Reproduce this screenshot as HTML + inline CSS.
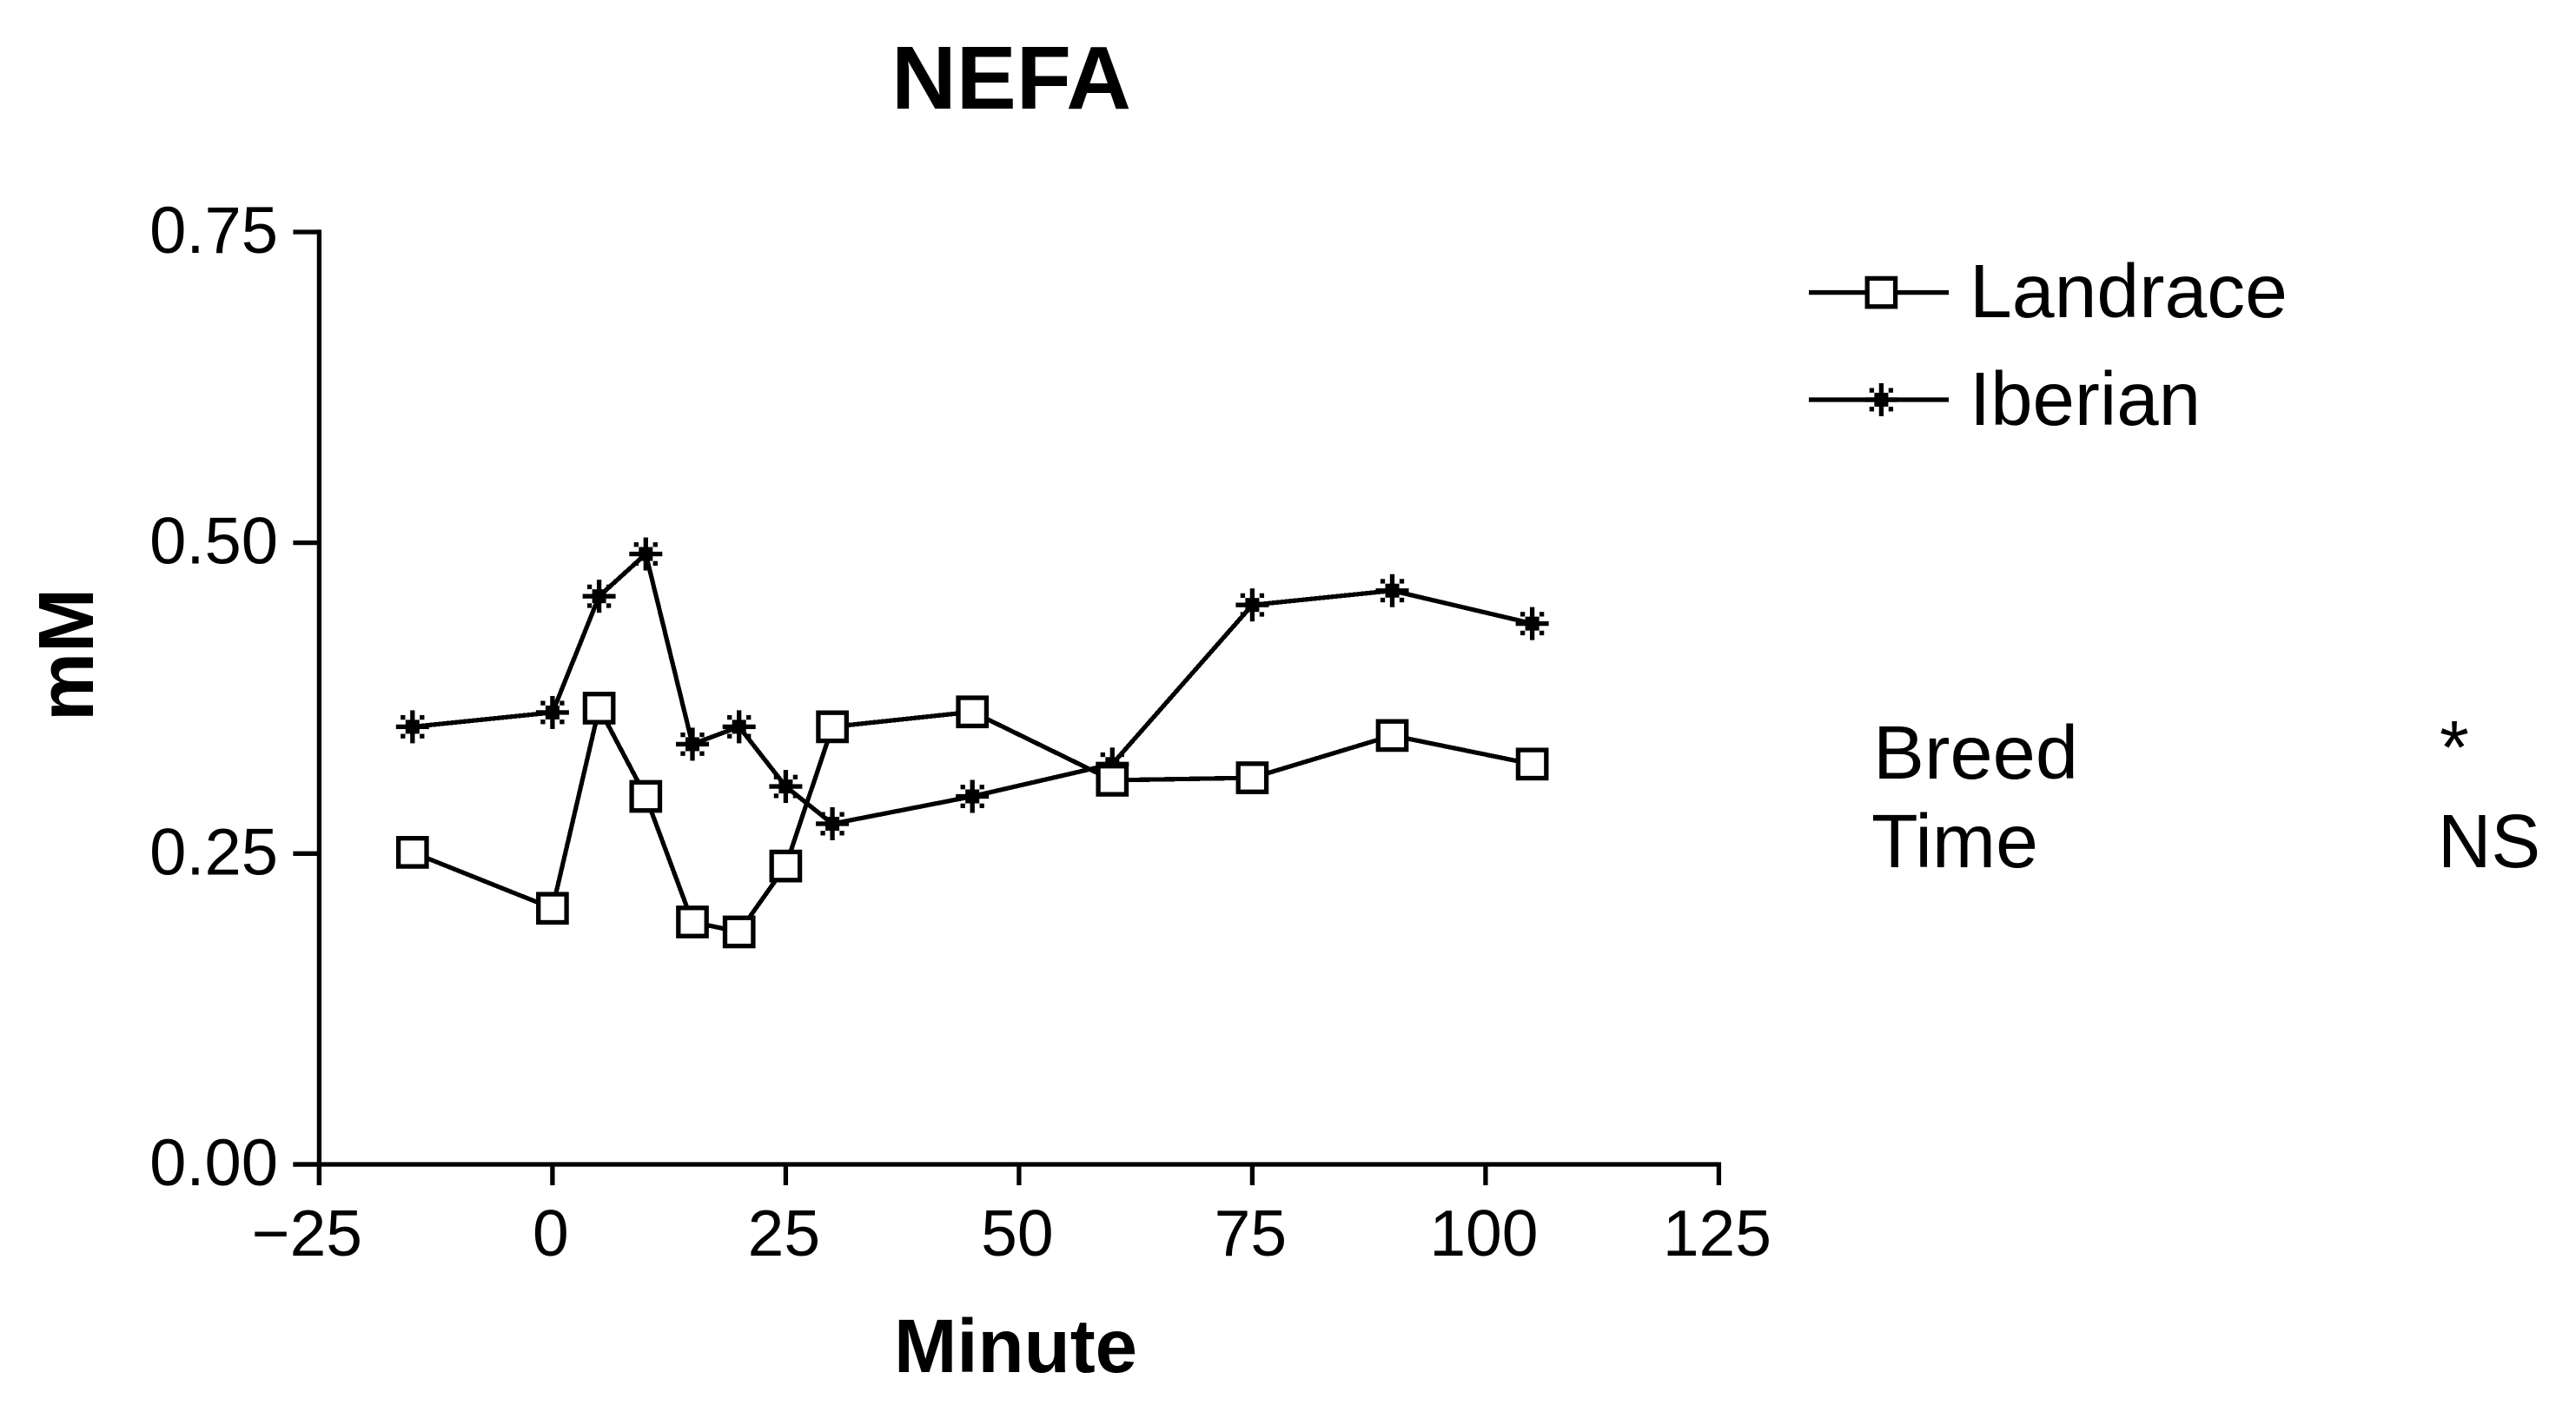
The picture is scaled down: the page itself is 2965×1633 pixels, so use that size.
<!DOCTYPE html>
<html lang="en">
<head>
<meta charset="utf-8">
<title>NEFA</title>
<style>
html,body{margin:0;padding:0;background:#fff;width:2965px;height:1633px;overflow:hidden}
svg{display:block}
text{font-family:"Liberation Sans",Arial,sans-serif;fill:#000}
</style>
</head>
<body>
<svg id="chart" xmlns="http://www.w3.org/2000/svg" width="2965" height="1633" viewBox="0 0 2965 1633">
  <rect x="0" y="0" width="2965" height="1633" fill="#fff"/>
  <text x="1026" y="125" font-size="103" font-weight="700" textLength="276" lengthAdjust="spacingAndGlyphs">NEFA</text>
  <text x="1029" y="1579" font-size="87" font-weight="700" textLength="280" lengthAdjust="spacingAndGlyphs">Minute</text>
  <text transform="translate(107,830) rotate(-90)" x="0" y="0" font-size="90" font-weight="700" textLength="153" lengthAdjust="spacingAndGlyphs">mM</text>
  <g id="axes"></g>
  <g id="series"></g>
  <g id="legend"></g>
  <g>
    <text x="2156" y="896" font-size="87" textLength="236" lengthAdjust="spacingAndGlyphs">Breed</text>
    <text x="2808" y="890" font-size="87">*</text>
    <text x="2154" y="998" font-size="87" textLength="192" lengthAdjust="spacingAndGlyphs">Time</text>
    <text x="2806" y="998" font-size="87" textLength="118" lengthAdjust="spacingAndGlyphs">NS</text>
  </g>
</svg>
<script>
var minutes = [-15, 0, 5, 10, 15, 20, 25, 30, 45, 60, 75, 90, 105];
var landrace = [0.251, 0.206, 0.367, 0.296, 0.195, 0.187, 0.240, 0.352, 0.364, 0.309, 0.311, 0.345, 0.322];
var iberian = [0.352, 0.3635, 0.457, 0.491, 0.338, 0.352, 0.304, 0.274, 0.296, 0.322, 0.450, 0.4615, 0.435];
var xTicks = [-25, 0, 25, 50, 75, 100, 125];
var xTickLabels = ["\u221225", "0", "25", "50", "75", "100", "125"];
var yTicks = [0, 0.25, 0.5, 0.75];
var yTickLabels = ["0.00", "0.25", "0.50", "0.75"];

var NS = "http://www.w3.org/2000/svg";
var axes = document.getElementById("axes");
var seriesLayer = document.getElementById("series");
var legend = document.getElementById("legend");

function xScale(v) { return 367.4 + (v + 25) * 10.74; }
function yScale(v) { return 1340 - v * 1430.7; }

function make(tag, attrs, parent) {
  var el = document.createElementNS(NS, tag);
  for (var k in attrs) { el.setAttribute(k, attrs[k]); }
  parent.appendChild(el);
  return el;
}

function drawBox(parent, cx, cy) {
  var g = make("g", {}, parent);
  
  
  make("rect", { x: cx - 16.2, y: cy - 16.2, width: 32.4, height: 32.4, fill: "#fff", stroke: "#000", "stroke-width": 5.3 }, g);
}

function drawStar(parent, cx, cy) {
  var g = make("g", { fill: "#000" }, parent);
  
  
  make("rect", { x: cx - 2.65, y: cy - 19, width: 5.3, height: 38 }, g);
  make("rect", { x: cx - 19, y: cy - 2.65, width: 38, height: 5.3 }, g);
  make("rect", { x: cx - 8, y: cy - 8, width: 16, height: 16 }, g);
  var dx = [-1, 1, -1, 1];
  var dy = [-1, -1, 1, 1];
  for (var i = 0; i < 4; i++) {
    make("rect", { x: cx + dx[i] * 11 - 2.65, y: cy + dy[i] * 10.8 - 2.65, width: 5.3, height: 5.3 }, g);
  }
}

// axes
var yAxisLine = make("line", { x1: xScale(-25), x2: xScale(-25), y1: yScale(0.75) - 2.6, y2: yScale(0) + 24, stroke: "#000", "stroke-width": 5.3 }, axes);


var xAxisLine = make("line", { x1: xScale(-25) - 30, x2: xScale(125) + 2.6, y1: yScale(0), y2: yScale(0), stroke: "#000", "stroke-width": 5.3 }, axes);



yTicks.forEach(function (v, i) {
  var tick = make("line", { x1: xScale(-25) - 30, x2: xScale(-25), y1: yScale(v), y2: yScale(v), stroke: "#000", "stroke-width": 5.3 }, axes);
  
  
  var label = make("text", { x: 320, y: yScale(v) + 24, "font-size": 76, "text-anchor": "end" }, axes);
  
  
  label.textContent = yTickLabels[i];
});

xTicks.forEach(function (v, i) {
  var tick = make("line", { x1: xScale(v), x2: xScale(v), y1: yScale(0), y2: yScale(0) + 24, stroke: "#000", "stroke-width": 5.3 }, axes);
  
  
  var label = make("text", { x: xScale(v) + (v < 0 ? -14 : -2), y: 1445, "font-size": 75, "text-anchor": "middle" }, axes);
  
  
  label.textContent = xTickLabels[i];
});

// series: Iberian first, Landrace boxes sit on top
function drawSeries(values, drawMarker) {
  var pts = values.map(function (v, i) { return xScale(minutes[i]).toFixed(1) + "," + yScale(v).toFixed(1); }).join(" ");
  var line = make("polyline", { points: pts, fill: "none", stroke: "#000", "stroke-width": 5.2, "shape-rendering": "crispEdges" }, seriesLayer);
  
  
  values.forEach(function (v, i) { drawMarker(seriesLayer, xScale(minutes[i]), yScale(v)); });
}
drawSeries(iberian, drawStar);
drawSeries(landrace, drawBox);

// legend
var legendNames = ["Landrace", "Iberian"];
var legendLineY = [336.6, 460];
var legendTextY = [365, 489];
var legendTextWidth = [366, 266];
var legendMarkers = [drawBox, drawStar];
legendNames.forEach(function (name, i) {
  var line = make("line", { x1: 2082, x2: 2243, y1: legendLineY[i], y2: legendLineY[i], stroke: "#000", "stroke-width": 5.3 }, legend);
  
  
  legendMarkers[i](legend, 2165.4, legendLineY[i]);
  var label = make("text", { x: 2267, y: legendTextY[i], "font-size": 87, textLength: legendTextWidth[i], lengthAdjust: "spacingAndGlyphs" }, legend);
  
  
  label.textContent = name;
});
</script>
</body>
</html>
